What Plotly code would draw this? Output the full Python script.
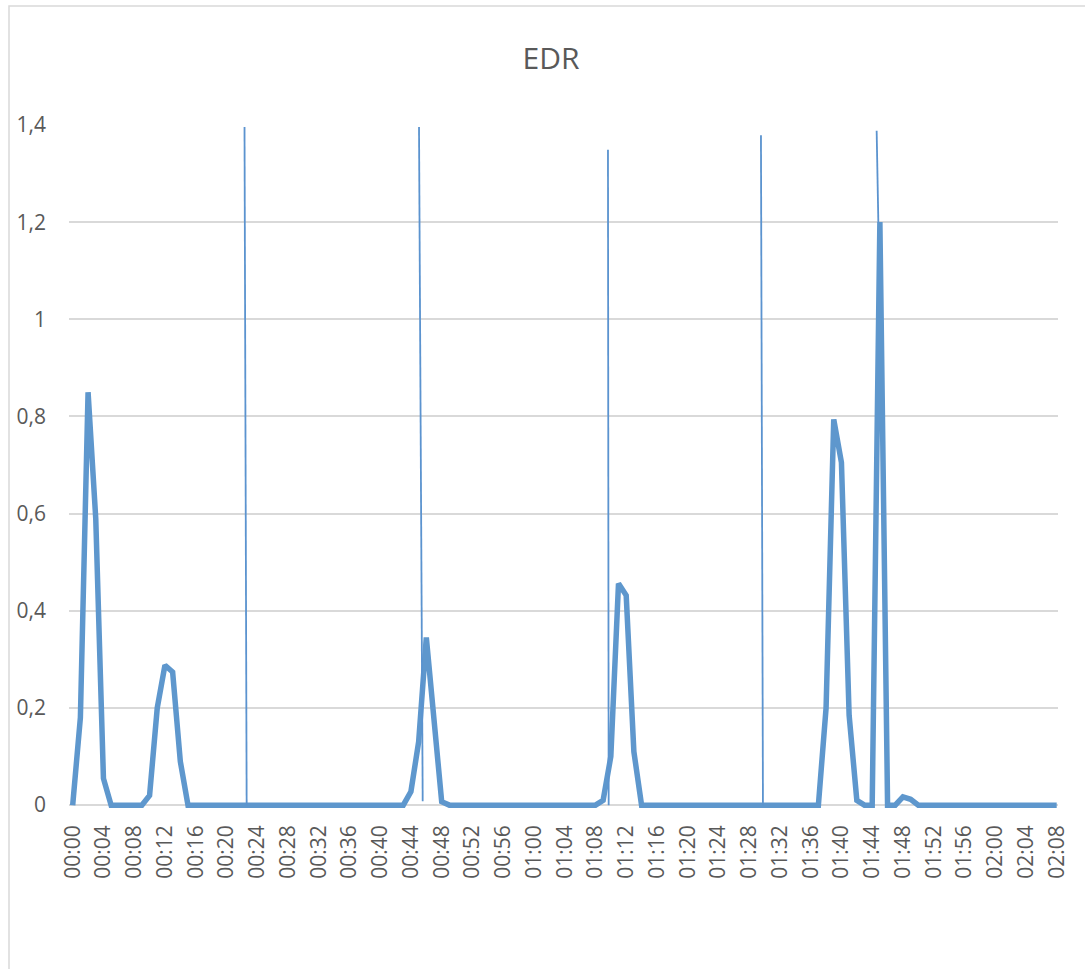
import plotly.graph_objects as go

# minutes since start (one sample per minute)
minutes = list(range(129))

edr = [
    0, 0.18, 0.85, 0.59, 0.055, 0, 0, 0, 0, 0,
    0.02, 0.2, 0.288, 0.274, 0.09, 0, 0, 0, 0, 0,
    0, 0, 0, 0, 0, 0, 0, 0, 0, 0,
    0, 0, 0, 0, 0, 0, 0, 0, 0, 0,
    0, 0, 0, 0, 0.028, 0.13, 0.345, 0.17, 0.007, 0,
    0, 0, 0, 0, 0, 0, 0, 0, 0, 0,
    0, 0, 0, 0, 0, 0, 0, 0, 0, 0.01,
    0.1, 0.456, 0.432, 0.11, 0, 0, 0, 0, 0, 0,
    0, 0, 0, 0, 0, 0, 0, 0, 0, 0,
    0, 0, 0, 0, 0, 0, 0, 0, 0.2, 0.794,
    0.705, 0.185, 0.01, 0, 0, 1.2, 0, 0, 0.017, 0.012,
    0, 0, 0, 0, 0, 0, 0, 0, 0, 0,
    0, 0, 0, 0, 0, 0, 0, 0, 0,
]

# thin marker lines (drawn over the chart)
mark_x_top = [22.35, 45.05, 69.63, 89.53, 104.58]
mark_y_top = [1.396, 1.396, 1.349, 1.379, 1.388]
mark_x_bottom = [22.63, 45.53, 69.72, 89.79, 104.8]
mark_y_bottom = [0.0, 0.008, 0.0, 0.0, 1.2]

x_tick_vals = list(range(0, 129, 4))
x_tick_text = [
    "00:00", "00:04", "00:08", "00:12", "00:16", "00:20", "00:24", "00:28",
    "00:32", "00:36", "00:40", "00:44", "00:48", "00:52", "00:56", "01:00",
    "01:04", "01:08", "01:12", "01:16", "01:20", "01:24", "01:28", "01:32",
    "01:36", "01:40", "01:44", "01:48", "01:52", "01:56", "02:00", "02:04",
    "02:08",
]
y_tick_vals = [0, 0.2, 0.4, 0.6, 0.8, 1.0, 1.2, 1.4]
y_tick_text = ["0", "0,2", "0,4", "0,6", "0,8", "1", "1,2", "1,4"]

mx, my = [], []
for xt, yt, xb, yb in zip(mark_x_top, mark_y_top, mark_x_bottom, mark_y_bottom):
    mx += [xt, xb, None]
    my += [yt, yb, None]

fig = go.Figure()
fig.add_trace(go.Scatter(
    x=minutes, y=edr, mode="lines",
    line=dict(color="#5E97CD", width=5.5),
    hoverinfo="skip", showlegend=False,
))
fig.add_trace(go.Scatter(
    x=mx, y=my, mode="lines",
    line=dict(color="#5B93CF", width=1.8),
    hoverinfo="skip", showlegend=False,
))

L, R, T, B = 69, 27, 125, 159
W, H = 1085, 969
pw = W - L - R
ph = H - T - B

fig.add_shape(
    type="rect", xref="paper", yref="paper",
    x0=(9 - L) / pw, x1=(W + 5 - L) / pw,
    y0=(H - B - (H + 5)) / ph, y1=(H - B - 6) / ph,
    line=dict(color="#D9D9D9", width=1.5), fillcolor="rgba(0,0,0,0)",
    layer="below",
)

fig.update_layout(
    width=W, height=H,
    margin=dict(l=L, r=R, t=T, b=B),
    paper_bgcolor="white", plot_bgcolor="white",
    font=dict(family="Open Sans", color="#595959", size=21),
    title=dict(
        text="EDR", x=551 / W, xref="container", xanchor="center",
        y=1 - 58 / H, yref="container", yanchor="middle",
        font=dict(family="Open Sans", size=30, color="#595959"),
    ),
    xaxis=dict(
        range=[-0.48, 128.17],
        tickmode="array", tickvals=x_tick_vals, ticktext=x_tick_text,
        tickangle=-90, showgrid=False, zeroline=False, showline=False,
        ticks="", ticklabelstandoff=10,
        tickfont=dict(family="Open Sans", size=21, color="#595959"),
    ),
    yaxis=dict(
        range=[-0.01, 1.4],
        tickmode="array", tickvals=y_tick_vals, ticktext=y_tick_text,
        showgrid=True, gridcolor="#D9D9D9", gridwidth=1.5,
        zeroline=False, showline=False, ticks="", ticklabelstandoff=22,
        tickfont=dict(family="Open Sans", size=21, color="#595959"),
    ),
)

fig.write_html(
    "out.html",
    config={"displayModeBar": False},
    post_script="document.body.style.margin='0';document.body.style.overflow='hidden';",
)
